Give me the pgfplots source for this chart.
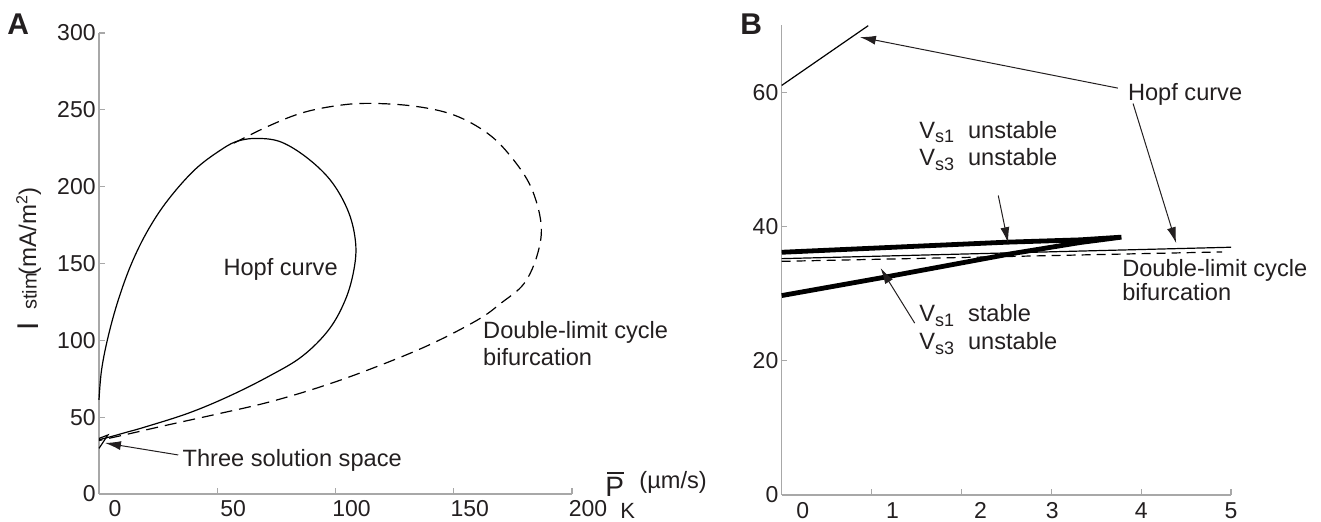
\documentclass[border=0pt]{standalone}
\usepackage{pgfplots}
\pgfplotsset{compat=1.18}
\usepackage{fontspec}
\setmainfont{Liberation Sans}
\usetikzlibrary{arrows.meta}
\definecolor{txt}{HTML}{231F20}
\definecolor{axg}{HTML}{A8A8A8}
\pgfplotsset{
  common/.style={
    scale only axis, axis lines=left,
    axis line style={axg, line width=0.6pt, -},
    tick style={axg, line width=0.6pt},
    major tick length=2.8pt, tick align=inside,
    /pgf/number format/assume math mode=true,
    ticklabel style={font=\fontsize{11.5}{12}\selectfont, text=txt, inner sep=0pt},
    yticklabel style={anchor=east, xshift=-1.5pt},
    clip=false,
  },
}
\tikzset{
  arr/.style={-{Latex[length=8pt,width=4.5pt]}, line width=0.5pt, txt},
  lbl/.style={anchor=base west, inner sep=0pt, text=txt, font=\fontsize{11.8}{12}\selectfont},
}
\begin{document}
\begin{tikzpicture}[x=1pt,y=1pt]
\path[use as bounding box] (0,0) rectangle (660.5,261);

% ---------------- Panel A ----------------
\begin{axis}[common, at={(49.5pt,14pt)}, anchor=south west,
  width=236.5pt, height=230.5pt,
  xmin=0, xmax=200, ymin=0, ymax=300,
  xtick={0,50,...,200}, ytick={0,50,...,300},
  xticklabel style={anchor=north, yshift=-3pt, xshift=8pt},
]
% Hopf curve (solid)
\addplot[black, line width=0.6pt, smooth, tension=0.6] coordinates {
 (0,61.3) (1.1,80.9) (3.9,102.6) (8.2,126.5) (13.9,150.5) (20.9,172.2)
 (29.4,191.8) (40.7,211.3) (52,224.4) (59,229.8) (67.5,231.4) (77.4,228.8)
 (88.7,217.9) (98.6,202.7) (105.6,183.1) (108.5,163.5) (107.8,146.1)
 (104.2,126.5) (97.2,107) (85.9,89.6) (71.7,76.5) (54.8,63.5)
 (37.8,52.6) (19.5,43.6) (11.7,40.2) (5,37.3) (0,35.3)
};
% Double-limit cycle bifurcation (dashed)
\addplot[black, line width=0.6pt, dash pattern=on 6pt off 3.5pt, smooth, tension=0.6] coordinates {
 (57,228.3) (71.1,239.0) (85.2,247.7) (99.3,252.4) (113.4,254.2)
 (133.2,252.4) (150.1,246.6) (164.3,234.7) (174.2,219.5) (182.6,199.9)
 (186.9,176.1) (185.5,156.6) (179.8,137.1) (169.9,124.1) (160.0,113.2)
 (138.9,96.5) (113.4,80.5) (92.2,69.0) (71.1,59.5) (49.9,52.0)
 (28.7,44.8) (11.7,38.8) (0,34.8)
};
% three-solution cusp
\addplot[black, line width=0.6pt] coordinates {(0,29.7) (3.78,38.4) (0,36.15)};
\draw[arr] (axis cs:33.5,25.4) -- (axis cs:2.5,33.2);
\node[lbl] at (axis cs:52.5,142.5) {Hopf curve};
\node[lbl] at (axis cs:162.3,101.5) {Double-limit cycle};
\node[lbl] at (axis cs:162.3,83.9) {bifurcation};
\node[lbl] at (axis cs:35.2,18.2) {Three solution space};
\end{axis}

% ---------------- Panel B ----------------
\begin{axis}[common, at={(390.85pt,13.5pt)}, anchor=south west,
  width=224.65pt, height=235pt,
  xmin=0, xmax=5, ymin=0, ymax=70,
  xtick={0,1,...,5},
  xticklabels={\hspace*{21pt}0,\hspace*{21pt}1,\hspace*{19pt}2,\hspace*{1pt}3,4,5},
  xticklabel style={anchor=north, yshift=-3.5pt},
  ytick={0,20,40,60},
]
\addplot[black, line width=0.6pt] coordinates {(0,61.0) (0.963,69.9)};
\addplot[black, line width=0.6pt] coordinates {(0,35.2) (5,36.9)};
\addplot[black, line width=0.6pt, dash pattern=on 4.5pt off 3pt] coordinates {(0,34.8) (4.9,36.2)};
\addplot[black, line width=2.4pt, line join=bevel] coordinates {
 (0,29.7) (1.13,32.4) (2.54,35.9) (3.32,37.6) (3.78,38.4) (3.32,38.0) (2.5,37.65) (0,36.15)};
\draw[arr] (axis cs:3.74,60.6) -- (axis cs:0.87,68.2);
\draw[arr] (axis cs:3.91,58.3) -- (axis cs:4.39,37.5);
\draw[arr] (axis cs:2.41,44.6) -- (axis cs:2.52,37.5);
\draw[arr] (axis cs:1.48,25.6) -- (axis cs:1.10,33.8);
\node[lbl] at (axis cs:3.85,58.8) {Hopf curve};
\node[lbl] at (axis cs:3.786,32.6) {Double-limit cycle};
\node[lbl] at (axis cs:3.786,29.0) {bifurcation};
\node[lbl] at (axis cs:1.527,53.1) {V\raisebox{-2.2pt}{\fontsize{9}{9}\selectfont s1}};
\node[lbl] at (axis cs:2.07,53.1) {unstable};
\node[lbl] at (axis cs:1.527,49.0) {V\raisebox{-2.2pt}{\fontsize{9}{9}\selectfont s3}};
\node[lbl] at (axis cs:2.07,49.0) {unstable};
\node[lbl] at (axis cs:1.527,25.8) {V\raisebox{-2.2pt}{\fontsize{9}{9}\selectfont s1}};
\node[lbl] at (axis cs:2.07,25.8) {stable};
\node[lbl] at (axis cs:1.527,21.6) {V\raisebox{-2.2pt}{\fontsize{9}{9}\selectfont s3}};
\node[lbl] at (axis cs:2.07,21.6) {unstable};
\end{axis}

% panel letters
\node[anchor=base west, inner sep=0pt, font=\fontsize{15}{15}\selectfont\bfseries, text=txt] at (3.5,243.5) {A};
\node[anchor=base west, inner sep=0pt, font=\fontsize{15}{15}\selectfont\bfseries, text=txt] at (370,243.5) {B};

% y label of A
\node[rotate=90, anchor=base west, inner sep=0pt, text=txt, font=\fontsize{15}{15}\selectfont] at (19.15,95.5) {I};
\node[rotate=90, anchor=base west, inner sep=0pt, text=txt, font=\fontsize{10}{10}\selectfont] at (18.3,106) {stim};
\node[rotate=90, anchor=base west, inner sep=0pt, text=txt, font=\fontsize{12}{12}\selectfont] at (18,123) {(mA/m\textsuperscript{2})};

% x label of A
\node[anchor=base west, inner sep=0pt, text=txt, font=\fontsize{14}{14}\selectfont] at (302.5,12.65) {\rlap{\hspace{0.9pt}\raisebox{11.3pt}{\rule{8.4pt}{0.9pt}}}P};
\node[anchor=base west, inner sep=0pt, text=txt, font=\fontsize{11}{11}\selectfont] at (310,1.85) {K};
\node[anchor=base west, inner sep=0pt, text=txt, font=\fontsize{11.8}{12}\selectfont] at (319.5,16.75) {(µm/s)};
\end{tikzpicture}
\end{document}
